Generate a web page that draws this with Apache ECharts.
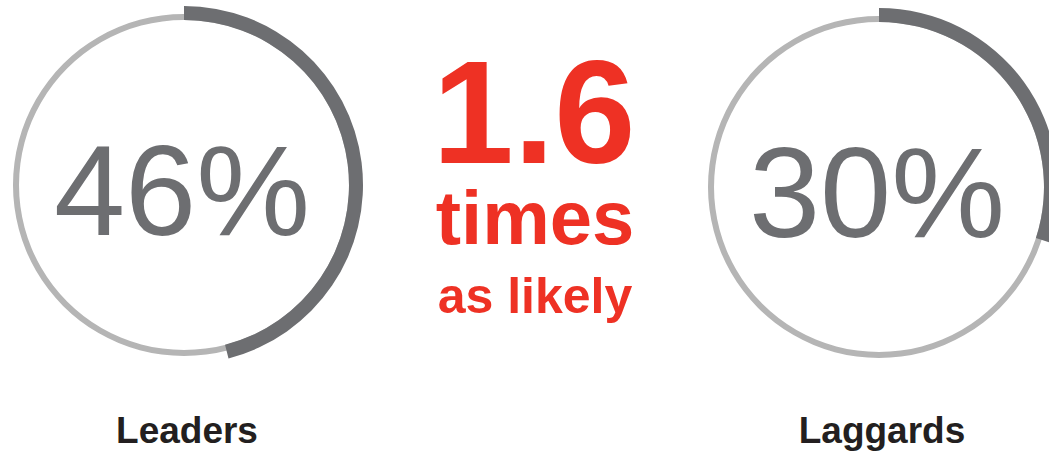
<!DOCTYPE html>
<html>
<head>
<meta charset="utf-8">
<style>
  html, body { margin: 0; padding: 0; background: #ffffff; }
  #chart { width: 1049px; height: 451px; }
</style>
<script src="https://cdn.jsdelivr.net/npm/echarts@6/dist/echarts.min.js"></script>
</head>
<body>
<div id="chart"></div>
<script>
// ---- Data ----
const categories = ['Leaders', 'Laggards'];
const shares = [46, 30];            // percent
const ratioValue = '1.6';
const ratioLines = ['times', 'as likely'];

// ---- Layout / style ----
const centers = [[184, 185], [879, 187]];
const FONT = '"Liberation Sans", Arial, Helvetica, sans-serif';
const GRAY_RING = '#b5b5b5';
const DARK = '#6d6e71';
const RED = '#ee3124';
const LABEL = '#231f20';

const chart = echarts.init(document.getElementById('chart'), null, { renderer: 'svg' });

const series = [];
categories.forEach((cat, i) => {
  series.push({
    type: 'pie',
    name: cat + ' base',
    center: centers[i],
    radius: [165, 171],
    silent: true,
    animation: false,
    label: { show: false },
    labelLine: { show: false },
    itemStyle: { color: GRAY_RING, borderWidth: 0 },
    emphasis: { disabled: true },
    data: [{ value: 100, name: cat }]
  });
  series.push({
    type: 'pie',
    name: cat,
    center: centers[i],
    radius: [165, 179],
    startAngle: 90,
    clockwise: true,
    silent: true,
    animation: false,
    label: { show: false },
    labelLine: { show: false },
    emphasis: { disabled: true },
    itemStyle: { borderWidth: 0 },
    data: [
      { value: shares[i], name: cat, itemStyle: { color: DARK } },
      { value: 100 - shares[i], name: 'rest', itemStyle: { color: 'rgba(0,0,0,0)' } }
    ]
  });
});

const pctY = [190, 192];
const graphics = [];
categories.forEach((cat, i) => {
  graphics.push({
    type: 'text', silent: true,
    style: {
      text: shares[i] + '%', x: centers[i][0] - 2, y: pctY[i],
      font: 'normal 128px ' + FONT, fill: DARK, align: 'center', verticalAlign: 'middle'
    }
  });
  graphics.push({
    type: 'text', silent: true,
    style: {
      text: cat, x: centers[i][0] + 3, y: 430,
      font: 'bold 37px ' + FONT, fill: LABEL, align: 'center', verticalAlign: 'middle'
    }
  });
});
graphics.push({
  type: 'text', silent: true,
  style: { text: ratioValue, x: 534, y: 112, font: 'bold 146px ' + FONT, lineHeight: 118, fill: RED, align: 'center', verticalAlign: 'middle' }
});
graphics.push({
  type: 'text', silent: true,
  style: { text: ratioLines[0], x: 535, y: 217, font: 'bold 76px ' + FONT, lineHeight: 66, fill: RED, align: 'center', verticalAlign: 'middle' }
});
graphics.push({
  type: 'text', silent: true,
  style: { text: ratioLines[1], x: 535, y: 296, font: 'bold 50px ' + FONT, lineHeight: 48, fill: RED, align: 'center', verticalAlign: 'middle' }
});

chart.setOption({
  animation: false,
  backgroundColor: '#ffffff',
  series: series,
  graphic: graphics
});
</script>
</body>
</html>
